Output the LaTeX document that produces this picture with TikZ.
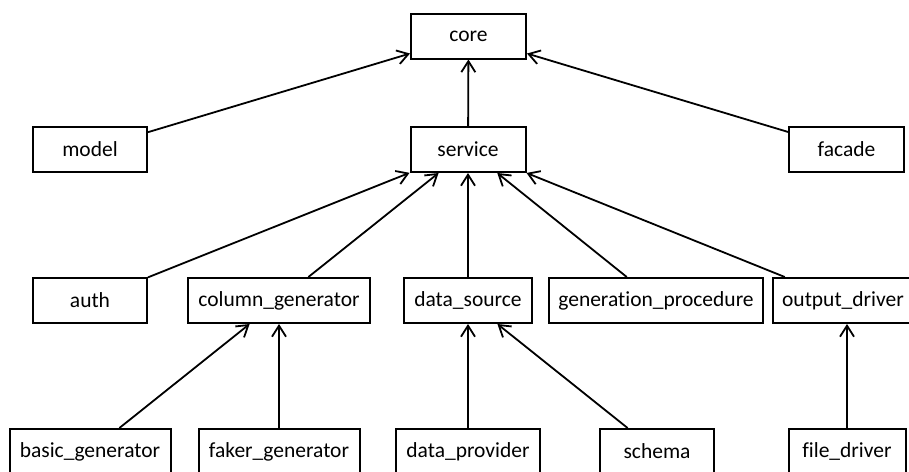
\documentclass[tikz,border=0pt]{standalone}
\usepackage{fontspec}
\setmainfont{Carlito}[RawFeature={-liga}]
\usetikzlibrary{arrows.meta}

\begin{document}
\begin{tikzpicture}[x=1pt,y=-1pt,
  module/.style={draw, line width=2pt, minimum height=45pt, inner xsep=9pt,
    font=\fontsize{21.5}{24}\selectfont},
  dep/.style={line width=1.8pt, -{Straight Barb[length=11pt,width=14pt,line width=1.8pt]}}]
  \useasboundingbox (0,0) rectangle (909,471);

  % top levels
  \node[module, minimum width=115pt] (core)    at (468.5,36)  {core};
  \node[module, minimum width=114pt] (model)   at (90,149.5)  {model};
  \node[module, minimum width=115pt] (service) at (468,149.5) {service};
  \node[module, minimum width=115pt] (facade)  at (846.5,149.5) {facade};

  % service packages
  \node[module, minimum width=114pt] (auth)    at (90,300.5)  {auth};
  \node[module, minimum width=182pt] (colgen)  at (279,300.5) {column\_generator};
  \node[module, minimum width=128pt] (dsrc)    at (468,300.5) {data\_source};
  \node[module, minimum width=213pt] (genproc) at (656,300.5) {generation\_procedure};
  \node[module, minimum width=135pt] (outdrv)  at (843,300.5) {output\_driver};

  % leaf packages
  \node[module, minimum width=161pt] (basic)  at (90,451.5)   {basic\_generator};
  \node[module, minimum width=161pt] (faker)  at (279,451.5)  {faker\_generator};
  \node[module, minimum width=144pt] (dprov)  at (468,451.5)  {data\_provider};
  \node[module, minimum width=114pt] (schema) at (657,451.5)  {schema};
  \node[module, minimum width=117pt] (fdrv)   at (847,451.5)  {file\_driver};

  % dependencies
  \draw[dep] (model)   -- (core);
  \draw[dep] (service) -- (core);
  \draw[dep] (facade)  -- (core);

  \draw[dep] (auth)    -- (service);
  \draw[dep] (colgen)  -- (service);
  \draw[dep] (dsrc)    -- (service);
  \draw[dep] (genproc) -- (service);
  \draw[dep] (outdrv)  -- (service);

  \draw[dep] (basic)  -- (colgen);
  \draw[dep] (faker)  -- (colgen);
  \draw[dep] (dprov)  -- (dsrc);
  \draw[dep] (schema) -- (dsrc);
  \draw[dep] (fdrv.north) -- (fdrv.north |- outdrv.south);
\end{tikzpicture}
\end{document}
